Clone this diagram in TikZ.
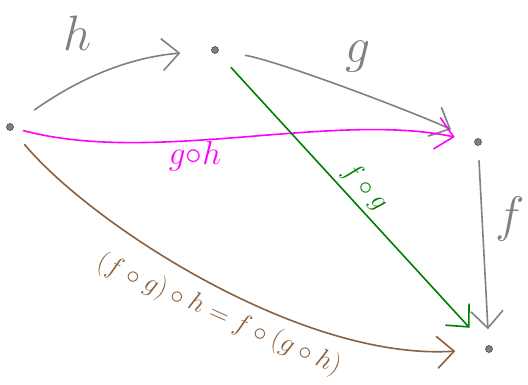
\documentclass[tikz,border=0pt]{standalone}
\usepackage{amsmath,amssymb}
\usepackage{xcolor}
\usepackage{tikz}
\usetikzlibrary{positioning,calc,arrows.meta}

\definecolor{pengray}{RGB}{128,128,128}
\definecolor{penmagenta}{RGB}{255,0,255}
\definecolor{pengreen}{RGB}{0,128,0}
\definecolor{penbrown}{RGB}{140,96,60}

\tikzset{
  obj/.style={circle, fill=pengray, draw=black!70, line width=0.6pt, inner sep=0pt, minimum size=7pt},
  pen/.style={line width=1.6pt, line cap=round, line join=round,
    -{Straight Barb[length=17pt,width=32pt]}},
  big/.style={font=\huge, scale=2.4},
  mid/.style={font=\huge, scale=1.6},
  small/.style={font=\huge, scale=1.3},
}

\begin{document}
\begin{tikzpicture}[x=1pt, y=1pt]
  \useasboundingbox (0,0) rectangle (528,385);

  % Objects
  \node[obj] (a) at (10,258) {};
  \node[obj] (b) at (215,335) {};
  \node[obj] (c) at (478,243) {};
  \node[obj] (d) at (489,36) {};

  % h and g
  \draw[pen, pengray, shorten <=26pt, shorten >=31pt] (a) to[out=35, in=185] (b);
  \node[big, pengray] (lh) at (78,352) {$h$};
  \draw[pen, pengray, shorten <=27pt, shorten >=26pt] (b) to[out=-10, in=155, looseness=0.6] (c);
  \node[big, pengray] (lg) at (358,328) {$g$};

  % g o h
  \draw[pen, penmagenta, shorten <=10pt, shorten >=20pt] (a) to[out=-15, in=168, looseness=0.8] (c);
  \node[mid, penmagenta] (lgh) at (195,229) {$g{\circ}h$};

  % f
  \draw[pen, pengray, shorten <=15pt, shorten >=16pt] (c) -- (d);
  \node[big, pengray] (lf) at (510,166) {$f$};

  % f o g
  \draw[pen, pengreen, shorten <=20pt, shorten >=25pt] (b) -- (d);
  \node[small, pengreen, rotate=-48] (lfg) at (365,198) {$f\circ g$};

  % associativity
  \draw[pen, penbrown, shorten <=19pt, shorten >=30pt] (a) .. controls +(80,-96) and +(-189,-12) .. (d);
  \node[small, penbrown, rotate=-24] (lassoc) at (219,70) {$(f\circ g)\circ h = f\circ(g\circ h)$};
\end{tikzpicture}
\end{document}
